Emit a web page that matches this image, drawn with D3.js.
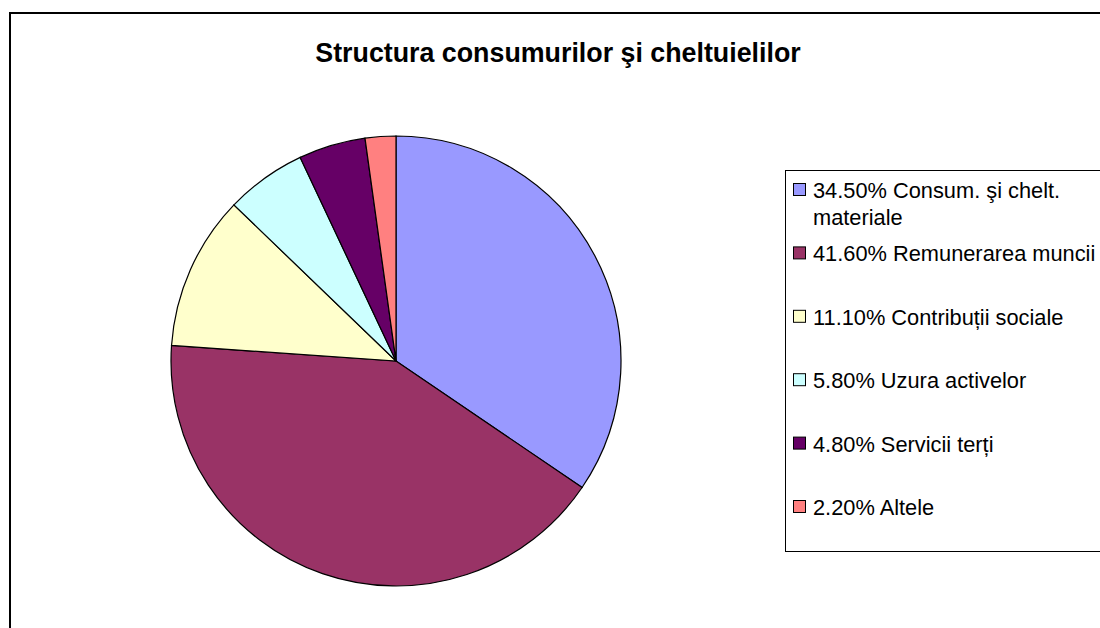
<!DOCTYPE html>
<html><head><meta charset="utf-8">
<script src="https://cdn.jsdelivr.net/npm/d3@7"></script>
<style>body{margin:0;background:#fff}svg{display:block}</style>
</head><body>
<svg id="c" width="1100" height="628"></svg>
<script>
const categories = ["Consum. şi chelt. materiale","Remunerarea muncii","Contribuții sociale","Uzura activelor","Servicii terți","Altele"];
const values = [34.5, 41.6, 11.1, 5.8, 4.8, 2.2];
const colors = ["#9999FF","#993366","#FFFFCC","#CCFFFF","#660066","#FF8080"];
const legendLines = [["34.50% Consum. şi chelt.","materiale"],["41.60% Remunerarea muncii"],["11.10% Contribuții sociale"],["5.80% Uzura activelor"],["4.80% Servicii terți"],["2.20% Altele"]];
const title = "Structura consumurilor şi cheltuielilor";

const svg = d3.select("#c");
const font = "Liberation Sans, Arial, sans-serif";
svg.append("rect").attr("x",10).attr("y",13).attr("width",1200).attr("height",700)
  .attr("fill","#fff").attr("stroke","#000").attr("stroke-width",2);

svg.append("text").attr("x",558).attr("y",62).attr("text-anchor","middle")
  .attr("font-family",font).attr("font-weight","bold").attr("font-size",26.8).text(title);

const cx=396, cy=361, r=225;
const pie = d3.pie().sort(null).value(d=>d)(values);
const arc = d3.arc().innerRadius(0).outerRadius(r);
const g = svg.append("g").attr("transform",`translate(${cx},${cy})`);
g.selectAll("path").data(pie).join("path").attr("d",arc)
  .attr("fill",(d,i)=>colors[i]).attr("stroke","#000").attr("stroke-width",1.2);

const lg = svg.append("g");
lg.append("rect").attr("x",785.5).attr("y",170.5).attr("width",400).attr("height",381)
  .attr("fill","#fff").attr("stroke","#000").attr("stroke-width",1);
const rowY = d3.scaleLinear().domain([0,5]).range([190,507]);
legendLines.forEach((lines,i)=>{
  const y = rowY(i);
  lg.append("rect").attr("x",793.5).attr("y",y-6.5).attr("width",12).attr("height",12)
    .attr("fill",colors[i]).attr("stroke","#000").attr("stroke-width",1);
  lines.forEach((t,j)=>{
    lg.append("text").attr("x",813).attr("y",y+8+j*27).attr("font-family",font)
      .attr("font-size",21.8).text(t);
  });
});
</script>
</body></html>
